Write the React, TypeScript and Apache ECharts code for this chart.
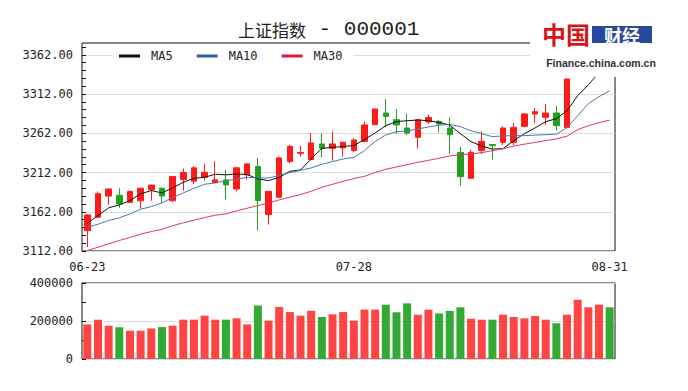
import React, { useEffect, useRef } from 'react';
import * as echarts from 'echarts';

const dates = ['06-23','06-26','06-27','06-28','06-29','06-30','07-03','07-04','07-05','07-06','07-07','07-10','07-11','07-12','07-13','07-14','07-17','07-18','07-19','07-20','07-21','07-24','07-25','07-26','07-27','07-28','07-31','08-01','08-02','08-03','08-04','08-07','08-08','08-09','08-10','08-11','08-14','08-15','08-16','08-17','08-18','08-21','08-22','08-23','08-24','08-25','08-28','08-29','08-30','08-31'];

const opens = [3138,3155,3182,3183,3174,3176,3190,3192,3176,3203,3201,3205.9,3199.2,3202.6,3191,3209,3219.5,3158.4,3180.5,3226,3236.4,3228.4,3248.4,3242.8,3243.3,3240,3251.7,3273,3287.8,3279.3,3268.7,3256.8,3276.4,3277.1,3268.7,3237.7,3204.6,3239.9,3247.6,3250.4,3250.4,3270.8,3286.6,3282.3,3287.8,3269.5,3338,3361,3358,3366];
const closes = [3158,3185,3191,3172,3188,3192,3196,3182,3207,3212,3218,3212.3,3202.6,3196.2,3218,3223,3176.3,3188,3230.6,3245.3,3237.5,3249.7,3242.8,3248.4,3250.5,3253.5,3272.6,3292.9,3283.5,3272.6,3262.4,3279.3,3282,3273.8,3260.2,3206.8,3237.7,3251.7,3246.2,3268.7,3269.5,3286.6,3289.5,3287.8,3271.7,3331.1,3362.6,3365.2,3363.6,3360.8];
const lows = [3117,3155,3171,3167,3173,3166,3176,3173,3174,3189,3197,3201.7,3198,3177.5,3188,3203,3138,3145.7,3180,3223.7,3232.2,3228,3231.3,3227,3232,3237.7,3250.4,3272.5,3269.5,3261.1,3259.8,3242.8,3273.8,3263.2,3235.7,3195.3,3204,3235.7,3228.4,3247,3247.1,3269.5,3275.1,3272.6,3265.3,3269,3337,3352,3350,3354];
const highs = [3158.5,3188,3192,3192,3189,3192.5,3196.5,3193,3207.5,3217,3220,3223,3226.2,3215.3,3218.5,3223.5,3230.6,3188.5,3232.2,3247.5,3246.2,3262,3262,3264.4,3251,3255.5,3277.1,3293.5,3305.6,3292.9,3287.3,3279.8,3285.7,3279,3282.2,3245,3240.8,3264.4,3247.8,3270.8,3275.1,3287.2,3294.2,3299.3,3297.1,3331.5,3366,3376,3371,3372];

const volumes = [182000,207000,175000,167000,149000,149000,161000,168000,175000,207000,207000,228000,207000,207000,214000,182000,281000,202000,274000,247000,228000,254000,221000,235000,247000,202000,260000,260000,286000,246000,293000,233000,260000,240000,253000,272000,212000,207000,207000,233000,221000,214000,226000,207000,188000,233000,312000,272000,286000,272000];

const ma5 = [3147.4,3157.2,3167.0,3170.8,3176.3,3184.8,3189.0,3186.0,3192.4,3199.5,3204.6,3205.9,3209.8,3209.0,3210.2,3209.3,3203.9,3201.7,3205.9,3213.5,3215.3,3229.3,3242.8,3244.1,3245.0,3246.4,3253.9,3262.4,3271.7,3276.8,3278.0,3278.9,3278.0,3275.9,3272.3,3261.5,3251.3,3245.6,3241.8,3242.4,3252.6,3261.5,3268.8,3276.8,3280.6,3290.8,3309.9,3323.8,3339.0,3357.0];
const ma10 = [3142.3,3146.1,3150.8,3154.2,3159.3,3165.2,3168.6,3173.3,3180.1,3186.0,3191.9,3197.0,3198.8,3201.7,3203.4,3205.9,3205.1,3205.1,3208.1,3211.9,3214.8,3217.9,3222.4,3225.9,3229.3,3231.2,3239.9,3251.7,3259.8,3264.0,3265.0,3267.5,3270.0,3272.3,3273.3,3270.3,3265.2,3261.4,3257.7,3258.6,3259.0,3259.0,3259.6,3260.2,3260.9,3269.1,3284.4,3299.7,3308.6,3316.2];
const ma30 = [3112.5,3116.8,3121.2,3125.4,3129.2,3133.4,3136.8,3139.7,3144.1,3147.9,3151.2,3154.6,3157.6,3159.3,3163.1,3166.5,3169.9,3173.3,3177.1,3180.5,3183.9,3188.1,3193.2,3197.0,3200.8,3204.2,3207.2,3211.9,3216.1,3219.1,3222.0,3225.0,3227.5,3230.1,3233.1,3234.8,3235.7,3237.3,3239.9,3242.4,3245.6,3248.1,3250.3,3252.6,3254.8,3258.3,3266.6,3271.7,3275.5,3278.7];

const priceTicks = [3112, 3162, 3212, 3262, 3312, 3362];
const priceMinorTicks = [3112,3122,3132,3142,3152,3162,3172,3182,3192,3202,3212,3222,3232,3242,3252,3262,3272,3282,3292,3302,3312,3322,3332,3342,3352,3362,3372];
const xLabelIndices = [0, 25, 49];
const seriesNames = ['MA5', 'MA10', 'MA30'];

const MONO = "'DejaVu Sans Mono', 'Liberation Mono', monospace";
const UP = '#ff1a1a';
const DOWN = '#22a022';
const VOL_UP = '#ff4444';
const VOL_DOWN = '#33aa33';

export default function App() {
  const ref = useRef<HTMLDivElement>(null);
  useEffect(() => {
    const chart = echarts.init(ref.current as HTMLDivElement, null, { renderer: 'svg' });
    const candleData = dates.map((_, i) => [opens[i], closes[i], lows[i], highs[i]]);
    const volData = volumes.map((v, i) => ({
      value: v,
      itemStyle: { color: closes[i] >= opens[i] ? VOL_UP : VOL_DOWN },
    }));
    const option: any = {
      animation: false,
      backgroundColor: '#fff',
      title: {
        text: '{c|上证指数}{d| - 000001}',
        left: 233,
        top: 14,
        textStyle: {
          fontSize: 17, fontWeight: 'normal', color: '#222',
          rich: {
            c: { fontSize: 17, color: '#222', fontFamily: "'Noto Sans CJK SC'", verticalAlign: 'middle' },
            d: { fontSize: 21, color: '#222', fontFamily: "'Liberation Mono', monospace", verticalAlign: 'middle' },
          },
        },
      },
      legend: {
        data: seriesNames,
        left: 113,
        top: 47,
        icon: 'rect',
        itemWidth: 21,
        itemHeight: 3,
        itemGap: 24,
        padding: [3, 11, 3, 6],
        backgroundColor: '#fff',
        textStyle: { fontFamily: MONO, fontSize: 12, color: '#222', padding: [0, 0, 0, 6] },
      },
      grid: [
        { left: 82, top: 43, width: 533, height: 208, show: true, borderColor: '#111', borderWidth: 1, backgroundColor: 'transparent' },
        { left: 82, top: 283, width: 533, height: 76, show: true, borderColor: '#111', borderWidth: 1, backgroundColor: 'transparent' },
      ],
      xAxis: [
        {
          type: 'category', gridIndex: 0, data: dates,
          axisLine: { show: false }, axisTick: { show: false }, splitLine: { show: false },
          axisLabel: {
            interval: (i: number) => xLabelIndices.includes(i),
            margin: 10, fontSize: 12, color: '#222', fontFamily: MONO,
          },
        },
        {
          type: 'category', gridIndex: 1, data: dates,
          axisLine: { show: false }, axisTick: { show: false }, axisLabel: { show: false }, splitLine: { show: false },
        },
      ],
      yAxis: [
        {
          type: 'value', gridIndex: 0, min: 3112, max: 3377, position: 'left',
          axisLine: { show: false },
          axisTick: { show: true, inside: true, length: 4, customValues: priceTicks, lineStyle: { color: '#111' } },
          axisLabel: { customValues: priceTicks, formatter: (v: number) => v.toFixed(2), fontSize: 12, color: '#222', fontFamily: MONO, margin: 9 },
          splitLine: { show: true, lineStyle: { color: '#dddddd', width: 1 } },
        },
        {
          type: 'value', gridIndex: 0, min: 3112, max: 3377, position: 'left',
          axisLine: { show: false }, axisLabel: { show: false }, splitLine: { show: false },
          axisTick: { show: true, inside: true, length: 4, customValues: priceMinorTicks, lineStyle: { color: '#111' } },
        },
        {
          type: 'value', gridIndex: 1, min: 0, max: 400000, interval: 200000, position: 'left',
          axisLine: { show: false },
          axisTick: { show: true, inside: true, length: 4, lineStyle: { color: '#111' } },
          minorTick: { show: true, splitNumber: 2, length: 4, lineStyle: { color: '#111' } },
          axisLabel: { formatter: (v: number) => String(v), fontSize: 12, color: '#222', fontFamily: MONO, margin: 9 },
          splitLine: { show: true, lineStyle: { color: '#dddddd', width: 1 } },
        },
      ],
      series: [
        {
          type: 'candlestick', name: 'K', xAxisIndex: 0, yAxisIndex: 0, data: candleData, barWidth: 6,
          itemStyle: { color: UP, color0: DOWN, borderColor: UP, borderColor0: DOWN, borderWidth: 1 },
        },
        {
          type: 'line', name: 'MA5', xAxisIndex: 0, yAxisIndex: 0, data: ma5, symbol: 'none', z: 3,
          lineStyle: { color: '#111111', width: 1 }, itemStyle: { color: '#111111' },
        },
        {
          type: 'line', name: 'MA10', xAxisIndex: 0, yAxisIndex: 0, data: ma10, symbol: 'none', z: 3,
          lineStyle: { color: '#4a78ad', width: 1 }, itemStyle: { color: '#2f5f9a' },
        },
        {
          type: 'line', name: 'MA30', xAxisIndex: 0, yAxisIndex: 0, data: ma30, symbol: 'none', z: 3,
          lineStyle: { color: '#d63a62', width: 1 }, itemStyle: { color: '#d81b48' },
        },
        {
          type: 'bar', name: 'VOL', xAxisIndex: 1, yAxisIndex: 2, data: volData, barWidth: 8,
        },
      ],
      graphic: [
        { type: 'rect', z: 100, shape: { x: 530, y: 0, width: 158, height: 77 }, style: { fill: '#ffffff' } },
        {
          type: 'text', z: 101, x: 566, y: 33,
          style: { text: '中国', fill: '#d7141a', font: "bold 24px 'Noto Sans CJK SC'", textAlign: 'center', textVerticalAlign: 'middle' },
        },
        { type: 'rect', z: 101, shape: { x: 592, y: 26, width: 60, height: 17 }, style: { fill: '#27489c' } },
        {
          type: 'text', z: 102, x: 622, y: 34.5,
          style: { text: '财经', fill: '#ffffff', font: "bold 18px 'Noto Sans CJK SC'", textAlign: 'center', textVerticalAlign: 'middle' },
        },
        {
          type: 'text', z: 101, x: 601, y: 63,
          style: { text: 'Finance.china.com.cn', fill: '#333333', font: "bold 10.5px 'Liberation Sans', Arial", textAlign: 'center', textVerticalAlign: 'middle' },
        },
      ],
    };
    chart.setOption(option);
    return () => chart.dispose();
  }, []);
  return <div ref={ref} style={{ position: 'absolute', left: 0, top: 0, width: 688, height: 391 }} />;
}
